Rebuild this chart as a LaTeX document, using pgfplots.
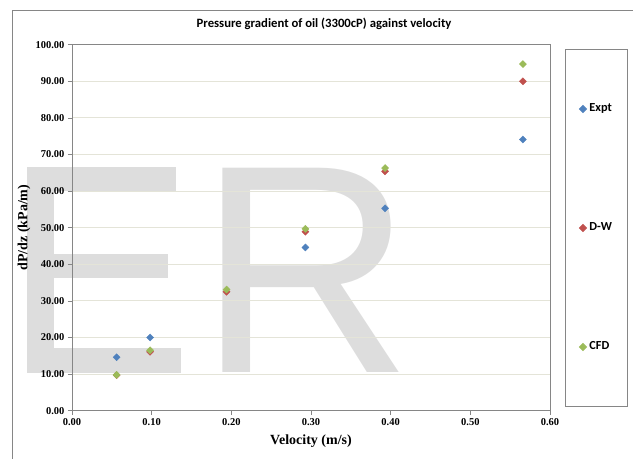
\documentclass[border=0pt]{standalone}
\usepackage{fontspec}
\usepackage{pgfplots}
\pgfplotsset{compat=1.18}
\setmainfont{Liberation Serif}
\newfontfamily\calib{Carlito}
\newfontfamily\wmfont{Liberation Sans}
\definecolor{expt}{RGB}{79,129,189}
\definecolor{dw}{RGB}{192,80,77}
\definecolor{cfd}{RGB}{155,187,89}
\definecolor{wm}{RGB}{221,221,221}
\definecolor{gridc}{RGB}{228,228,216}
\definecolor{framec}{RGB}{134,134,134}
\pgfplotsset{
  dmark/.style={only marks, mark=square*, mark size=2.5bp,
    mark options={rotate=45, fill=#1, draw=#1}, color=#1},
}

\begin{document}
\begin{tikzpicture}
\useasboundingbox (0bp,0bp) rectangle (633bp,459bp);
% watermark behind the chart: "E" as bars, "R" as a glyph
\fill[wm] (27bp,86.3bp) rectangle (54bp,292.3bp);
\fill[wm] (27bp,268bp) rectangle (175.7bp,292.3bp);
\fill[wm] (27bp,181.3bp) rectangle (168bp,205bp);
\fill[wm] (27bp,86.3bp) rectangle (180.7bp,111bp);
\node[anchor=base west, inner sep=0pt, text=wm,
      font=\wmfont\fontsize{297bp}{297bp}\selectfont] at (198.4bp,86.3bp) {R};
% chart area border (left and top only visible)
\draw[framec, line width=0.8bp] (12bp,0bp) -- (12bp,449bp) -- (633bp,449bp);
\begin{scope}[shift={(72bp,48.3bp)}]
\begin{axis}[
  anchor=south west, scale only axis,
  width=478bp, height=366bp,
  xmin=0, xmax=0.6, ymin=0, ymax=100,
  xtick={0,0.1,0.2,0.3,0.4,0.5,0.6},
  ytick={0,10,20,30,40,50,60,70,80,90,100},
  xtick pos=bottom, ytick pos=left,
  tick align=outside, major tick length=4bp,
  tick style={framec, line width=0.6bp},
  axis line style={framec, line width=0.8bp},
  ymajorgrids, grid style={gridc, line width=0.8bp},
  ticklabel style={font=\fontsize{10.5bp}{12bp}\selectfont\bfseries},
  /pgf/number format/.cd, fixed, fixed zerofill, precision=2, assume math mode=true,
  /pgfplots/.cd,
  xlabel={Velocity (m/s)},
  ylabel={dP/dz (kPa/m)},
  label style={font=\fontsize{14bp}{16bp}\selectfont\bfseries},
  xlabel style={at={(axis description cs:0.5,0)}, anchor=center, yshift=-30bp},
  ylabel style={at={(axis description cs:-0.1004,0.5)}, anchor=center},
  legend style={at={(1.0314,0.988)}, anchor=north west,
    draw=framec, line width=0.8bp, fill=white,
    inner xsep=14bp, inner ysep=54bp, row sep=108bp,
    font=\calib\bfseries\fontsize{12.3bp}{14bp}\selectfont,
    nodes={inner sep=1bp, text height=7bp, text depth=2bp}},
  legend cell align=left,
  legend image code/.code={\draw[#1] plot coordinates {(0bp,0bp)};},
  /tikz/every odd column/.append style={column sep=2bp},
]
\addplot[dmark=expt] coordinates {
  (0.056,14.6) (0.098,20.0) (0.293,44.6) (0.393,55.3) (0.566,74.1)};
\addlegendentry{Expt}
\addplot[dmark=dw] coordinates {
  (0.056,9.7) (0.098,16.1) (0.194,32.5) (0.293,48.9) (0.393,65.4) (0.566,90.0)};
\addlegendentry{D-W}
\addplot[dmark=cfd] coordinates {
  (0.056,9.8) (0.098,16.5) (0.194,33.1) (0.293,49.7) (0.393,66.3) (0.566,94.7)};
\addlegendentry{CFD}
\end{axis}
\end{scope}
\node[font=\calib\bfseries\fontsize{12.7bp}{14bp}\selectfont] at (324bp,435bp)
  {Pressure gradient of oil (3300cP) against velocity};
\end{tikzpicture}
\end{document}
